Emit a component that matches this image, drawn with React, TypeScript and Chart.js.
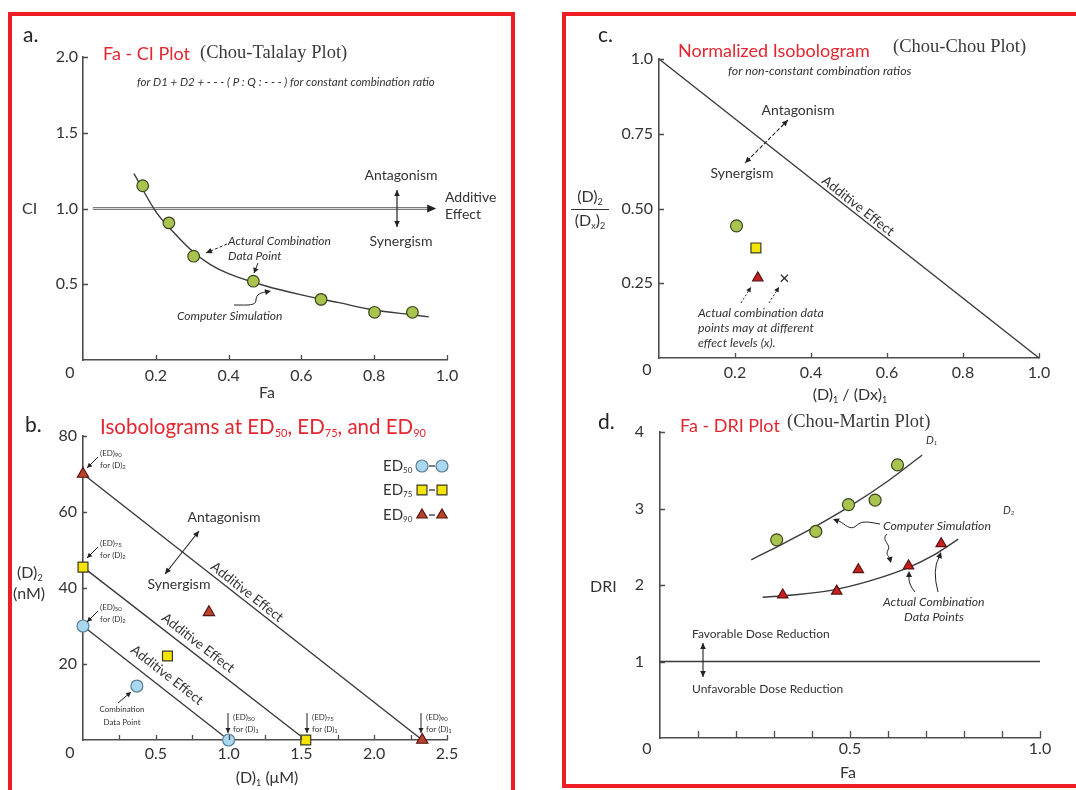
import React, { useEffect, useRef } from 'react';
import { Chart, registerables } from 'chart.js';
Chart.register(...registerables);

const SANS = 'Lato, "Open Sans", "DejaVu Sans", sans-serif';
const SERIF = '"Liberation Serif", "DejaVu Serif", serif';
const INK = '#333333';
const AXIS = '#4d4d4d';
const RED = '#e3262f';
const FRAME = '#ee1c24';
const GREEN = '#a8c44f';
const GREEN_EDGE = '#3b4420';
const BLUE = '#a9d8f1';
const BLUE_EDGE = '#5b7d95';
const YELLOW = '#f4e400';
const YELLOW_EDGE = '#3a3a2a';
const TRI_RED = '#c8201f';
const TRI_EDGE = '#5a1212';
const TRI_BROWN = '#b8442a';

// ---------- a. Fa - CI plot (Chou-Talalay) ----------
const ciFa = [0.164, 0.236, 0.304, 0.468, 0.654, 0.801, 0.905];
const ciValues = [1.15, 0.905, 0.685, 0.52, 0.4, 0.315, 0.315];
const ciSimFa = [0.14, 0.2, 0.25, 0.3, 0.35, 0.4, 0.5, 0.6, 0.7, 0.8, 0.9, 0.95];
const ciSimValues = [1.23, 0.98, 0.84, 0.72, 0.63, 0.57, 0.49, 0.43, 0.38, 0.33, 0.3, 0.285];
const ciAdditiveFa = [0.027, 0.962];
const ciAdditive = 1.0;
const aXTicks = [0.2, 0.4, 0.6, 0.8, 1.0];
const aXLabels = ['0.2', '0.4', '0.6', '0.8', '1.0'];
const aYTicks = [0.5, 1.0, 1.5, 2.0];
const aYLabels = ['0.5', '1.0', '1.5', '2.0'];

// ---------- b. Isobolograms ----------
const isoLevels = ['50', '75', '90'];
const isoD1 = [1.0, 1.53, 2.33];
const isoD2 = [30, 45.5, 70];
const comboD1 = [0.37, 0.58, 0.865];
const comboD2 = [14.2, 22.1, 33.6];
const bXTicks = [0.25, 0.5, 0.75, 1.0, 1.25, 1.5, 1.75, 2.0, 2.25, 2.5];
const bXLabels = ['', '0.5', '', '1.0', '', '1.5', '', '2.0', '', '2.5'];
const bYTicks = [20, 40, 60, 80];
const bYLabels = ['20', '40', '60', '80'];

// ---------- c. Normalized isobologram ----------
const normD1 = [0.204, 0.255, 0.26, 0.33];
const normD2 = [0.442, 0.368, 0.268, 0.267];
const normAdditiveX = [0, 1];
const normAdditiveY = [1, 0];
const cXTicks = [0.2, 0.4, 0.6, 0.8, 1.0];
const cXLabels = ['0.2', '0.4', '0.6', '0.8', '1.0'];
const cYTicks = [0.25, 0.5, 0.75, 1.0];
const cYLabels = ['0.25', '0.50', '0.75', '1.0'];

// ---------- d. Fa - DRI plot ----------
const driD1Fa = [0.307, 0.41, 0.496, 0.566, 0.625];
const driD1 = [2.59, 2.7, 3.05, 3.11, 3.57];
const driD1SimFa = [0.24, 0.3, 0.4, 0.5, 0.6, 0.69];
const driD1Sim = [2.33, 2.48, 2.74, 3.03, 3.36, 3.7];
const driD2Fa = [0.323, 0.465, 0.522, 0.654, 0.74];
const driD2 = [1.87, 1.92, 2.2, 2.25, 2.54];
const driD2SimFa = [0.27, 0.35, 0.45, 0.55, 0.65, 0.72, 0.785];
const driD2Sim = [1.84, 1.87, 1.93, 2.05, 2.22, 2.39, 2.6];
const driRefFa = [0, 1];
const driRef = 1;
const dXTicks = [0.1, 0.2, 0.3, 0.4, 0.5, 0.6, 0.7, 0.8, 0.9, 1.0];
const dXLabels = ['', '', '', '', '0.5', '', '', '', '', '1.0'];
const dYTicks = [1, 2, 3, 4];
const dYLabels = ['1', '2', '3', '4'];

// ---------- drawing helpers ----------
type Seg = string | { s: string; sub?: boolean };

function font(size: number, italic?: boolean, family?: string) {
  return `${italic ? 'italic ' : ''}${size}px ${family || SANS}`;
}

function txt(ctx: CanvasRenderingContext2D, s: string, x: number, y: number, size: number,
  o: { color?: string; align?: CanvasTextAlign; italic?: boolean; family?: string } = {}) {
  ctx.font = font(size, o.italic, o.family);
  ctx.fillStyle = o.color || INK;
  ctx.textAlign = o.align || 'left';
  ctx.textBaseline = 'middle';
  ctx.fillText(s, x, y);
}

function rich(ctx: CanvasRenderingContext2D, segs: Seg[], x: number, y: number, size: number,
  o: { color?: string; align?: 'left' | 'center' | 'right'; italic?: boolean; family?: string } = {}) {
  const subSize = Math.max(6, Math.round(size * 0.55));
  const parts = segs.map((p) => (typeof p === 'string' ? { s: p, sub: false } : { s: p.s, sub: !!p.sub }));
  let total = 0;
  const widths = parts.map((p) => {
    ctx.font = font(p.sub ? subSize : size, o.italic, o.family);
    const w = ctx.measureText(p.s).width;
    total += w;
    return w;
  });
  let cx = o.align === 'center' ? x - total / 2 : o.align === 'right' ? x - total : x;
  ctx.fillStyle = o.color || INK;
  ctx.textAlign = 'left';
  ctx.textBaseline = 'middle';
  parts.forEach((p, i) => {
    ctx.font = font(p.sub ? subSize : size, o.italic, o.family);
    ctx.fillText(p.s, cx, p.sub ? y + size * 0.3 : y);
    cx += widths[i];
  });
}

function head(ctx: CanvasRenderingContext2D, x1: number, y1: number, x2: number, y2: number, len = 6, w = 2.8) {
  const a = Math.atan2(y2 - y1, x2 - x1);
  ctx.beginPath();
  ctx.moveTo(x2, y2);
  ctx.lineTo(x2 - len * Math.cos(a) + w * Math.sin(a), y2 - len * Math.sin(a) - w * Math.cos(a));
  ctx.lineTo(x2 - len * Math.cos(a) - w * Math.sin(a), y2 - len * Math.sin(a) + w * Math.cos(a));
  ctx.closePath();
  ctx.fill();
}

function arrow(ctx: CanvasRenderingContext2D, x1: number, y1: number, x2: number, y2: number,
  o: { both?: boolean; dash?: number[]; width?: number; len?: number; w?: number } = {}) {
  ctx.save();
  ctx.strokeStyle = '#222';
  ctx.fillStyle = '#222';
  ctx.lineWidth = o.width || 1;
  if (o.dash) ctx.setLineDash(o.dash);
  ctx.beginPath();
  ctx.moveTo(x1, y1);
  ctx.lineTo(x2, y2);
  ctx.stroke();
  ctx.setLineDash([]);
  head(ctx, x1, y1, x2, y2, o.len || 6, o.w || 2.8);
  if (o.both) head(ctx, x2, y2, x1, y1, o.len || 6, o.w || 2.8);
  ctx.restore();
}

function marker(ctx: CanvasRenderingContext2D, style: string, x: number, y: number, r: number, fill: string, stroke: string) {
  ctx.save();
  ctx.fillStyle = fill;
  ctx.strokeStyle = stroke;
  ctx.lineWidth = 1.2;
  ctx.beginPath();
  if (style === 'circle') ctx.arc(x, y, r, 0, Math.PI * 2);
  else if (style === 'rect') {
    const s = r * Math.SQRT1_2;
    ctx.rect(x - s, y - s, 2 * s, 2 * s);
  } else {
    ctx.moveTo(x, y - r);
    ctx.lineTo(x + r * 0.866, y + r * 0.5);
    ctx.lineTo(x - r * 0.866, y + r * 0.5);
    ctx.closePath();
  }
  ctx.fill();
  ctx.stroke();
  ctx.restore();
}

function rotated(ctx: CanvasRenderingContext2D, s: string, cx: number, cy: number, ang: number, size: number) {
  ctx.save();
  ctx.translate(cx, cy);
  ctx.rotate(ang);
  txt(ctx, s, 0, 0, size, { align: 'center' });
  ctx.restore();
}

function lookup(values: number[], labels: string[]) {
  return (v: number) => {
    const i = values.findIndex((t) => Math.abs(t - v) < 1e-9);
    return i >= 0 ? labels[i] : '';
  };
}

function scaleOpts(axis: 'x' | 'y', min: number, max: number, marks: number[], labels: string[], pad: number, fixed: number) {
  const fmt = lookup(marks, labels);
  return {
    type: 'linear',
    position: axis === 'x' ? 'bottom' : 'left',
    min,
    max,
    grid: { display: false, drawTicks: false },
    border: { display: true, color: AXIS, width: 1.6 },
    afterBuildTicks: (s: any) => {
      s.ticks = marks.map((v) => ({ value: v }));
    },
    ticks: {
      autoSkip: false,
      maxRotation: 0,
      minRotation: 0,
      padding: pad,
      color: INK,
      font: { family: SANS, size: 16 },
      callback: (v: any) => fmt(Number(v)),
    },
    afterFit: (s: any) => {
      if (axis === 'x') s.height = fixed;
      else s.width = fixed;
    },
  };
}

function inwardTicks(lenX: number, lenY: number) {
  return {
    id: 'inwardTicks',
    afterDraw(chart: any) {
      const { ctx, chartArea } = chart;
      const xs = chart.scales.x;
      const ys = chart.scales.y;
      ctx.save();
      ctx.strokeStyle = AXIS;
      ctx.lineWidth = 1.3;
      ctx.beginPath();
      xs.ticks.forEach((t: any) => {
        const p = Math.round(xs.getPixelForValue(t.value)) + 0.5;
        ctx.moveTo(p, chartArea.bottom);
        ctx.lineTo(p, chartArea.bottom - lenX);
      });
      ys.ticks.forEach((t: any) => {
        const p = Math.round(ys.getPixelForValue(t.value)) + 0.5;
        ctx.moveTo(chartArea.left, p);
        ctx.lineTo(chartArea.left + lenY, p);
      });
      ctx.stroke();
      ctx.restore();
    },
  };
}

function annotations(ox: number, oy: number, draw: (ctx: CanvasRenderingContext2D, chart: any) => void) {
  return {
    id: 'annotations',
    afterDraw(chart: any) {
      const ctx = chart.ctx as CanvasRenderingContext2D;
      ctx.save();
      ctx.translate(-ox, -oy);
      draw(ctx, chart);
      ctx.restore();
    },
  };
}

function baseOptions(padding: any, scales: any) {
  return {
    responsive: false,
    animation: false,
    devicePixelRatio: 1,
    events: [],
    layout: { padding },
    plugins: { legend: { display: false }, tooltip: { enabled: false }, title: { display: false } },
    scales,
  };
}

const pts = (xs: number[], ys: number[]) => xs.map((x, i) => ({ x, y: ys[i] }));

// panel canvas placements (page px)
const PA = { left: 12, top: 16, w: 499, h: 384 };
const PB = { left: 12, top: 400, w: 499, h: 390 };
const PC = { left: 566, top: 16, w: 506, h: 394 };
const PD = { left: 566, top: 400, w: 506, h: 386 };

const SERIF_SIZE = 18.5;

function configA(): any {
  return {
    type: 'scatter',
    data: {
      datasets: [
        {
          label: 'Actual combination data point',
          data: pts(ciFa, ciValues),
          pointStyle: 'circle',
          pointRadius: 5.8,
          backgroundColor: GREEN,
          borderColor: GREEN_EDGE,
          borderWidth: 1.2,
          clip: false,
        },
        {
          label: 'Computer simulation',
          data: pts(ciSimFa, ciSimValues),
          showLine: true,
          pointRadius: 0,
          borderColor: '#3a3a3a',
          borderWidth: 1.4,
          cubicInterpolationMode: 'monotone',
          clip: false,
        },
        {
          label: 'Additive (inner)',
          data: pts(ciAdditiveFa, ciAdditiveFa.map(() => ciAdditive)),
          showLine: true,
          pointRadius: 0,
          borderColor: '#d6d6d6',
          borderWidth: 1,
        },
        {
          label: 'Additive effect',
          data: pts(ciAdditiveFa, ciAdditiveFa.map(() => ciAdditive)),
          showLine: true,
          pointRadius: 0,
          borderColor: '#7d7d7d',
          borderWidth: 3.2,
        },
      ],
    },
    options: baseOptions(
      { left: 31, right: 64, top: 41, bottom: 10 },
      { x: scaleOpts('x', 0, 1, aXTicks, aXLabels, 6, 30), y: scaleOpts('y', 0, 2, aYTicks, aYLabels, 5, 40) }
    ),
    plugins: [
      inwardTicks(5, 5),
      annotations(PA.left, PA.top, (ctx, chart) => {
        const xs = chart.scales.x;
        const ys = chart.scales.y;
        txt(ctx, 'a.', 23, 35, 21, { color: '#222' });
        txt(ctx, 'Fa - CI Plot', 103, 54, 18, { color: RED });
        txt(ctx, '(Chou-Talalay Plot)', 200, 53, SERIF_SIZE, { family: SERIF, color: '#3a3a3a' });
        txt(ctx, 'for D1 + D2 + - - - ( P : Q : - - - ) for constant combination ratio', 137, 82, 11.5, { italic: true });
        txt(ctx, 'CI', 22, 209, 16);
        txt(ctx, 'Fa', 267, 393, 16, { align: 'center' });
        txt(ctx, '0', 70, 373, 16, { align: 'center' });
        const ex = xs.getPixelForValue(ciAdditiveFa[1]) + PA.left;
        const ey = ys.getPixelForValue(ciAdditive) + PA.top;
        ctx.fillStyle = '#222';
        head(ctx, ex - 8, ey, ex + 3, ey, 9, 4);
        txt(ctx, 'Additive', 445, 197, 14);
        txt(ctx, 'Effect', 445, 214, 14);
        txt(ctx, 'Antagonism', 401, 175, 14, { align: 'center' });
        arrow(ctx, 397, 190, 397, 227, { both: true, width: 1.2 });
        txt(ctx, 'Synergism', 401, 241, 14, { align: 'center' });
        txt(ctx, 'Actural Combination', 228, 241, 12, { italic: true });
        txt(ctx, 'Data Point', 228, 256, 12, { italic: true });
        arrow(ctx, 227, 244, 206, 253, { dash: [3, 2] });
        arrow(ctx, 258, 263, 254, 273, { len: 5 });
        ctx.save();
        ctx.strokeStyle = '#222';
        ctx.lineWidth = 1;
        ctx.beginPath();
        ctx.moveTo(234, 305);
        ctx.bezierCurveTo(248, 305, 256, 306, 256, 300);
        ctx.bezierCurveTo(256, 294, 261, 293, 265, 292);
        ctx.stroke();
        ctx.fillStyle = '#222';
        head(ctx, 261, 293, 271, 291, 6, 3);
        ctx.restore();
        txt(ctx, 'Computer Simulation', 177, 316, 12, { italic: true });
      }),
    ],
  };
}

function configB(): any {
  const styles = ['circle', 'rect', 'triangle'];
  const fills = [BLUE, YELLOW, TRI_BROWN];
  const edges = [BLUE_EDGE, YELLOW_EDGE, TRI_EDGE];
  const radii = [6, 7, 6.5];
  const lineSets = isoLevels.map((lvl, i) => ({
    label: `ED${lvl} additive isobole`,
    data: [
      { x: 0, y: isoD2[i] },
      { x: isoD1[i], y: 0 },
    ],
    showLine: true,
    borderColor: '#3a3a3a',
    borderWidth: 1.4,
    pointStyle: styles[i],
    pointRadius: radii[i],
    pointBackgroundColor: fills[i],
    pointBorderColor: edges[i],
    pointBorderWidth: 1.2,
    clip: false,
  }));
  return {
    type: 'scatter',
    data: {
      datasets: [
        {
          label: 'Combination data points',
          data: pts(comboD1, comboD2),
          pointStyle: styles,
          pointRadius: radii,
          backgroundColor: fills,
          borderColor: edges,
          borderWidth: 1.2,
          clip: false,
        },
        ...lineSets,
      ],
    },
    options: baseOptions(
      { left: 31, right: 64, top: 36, bottom: 20 },
      { x: scaleOpts('x', 0, 2.5, bXTicks, bXLabels, 4, 30), y: scaleOpts('y', 0, 80, bYTicks, bYLabels, 6, 40) }
    ),
    plugins: [
      inwardTicks(5, 4),
      annotations(PB.left, PB.top, (ctx, chart) => {
        const xs = chart.scales.x;
        const ys = chart.scales.y;
        txt(ctx, 'b.', 25, 425, 21, { color: '#222' });
        rich(ctx, ['Isobolograms at ED', { s: '50', sub: true }, ', ED', { s: '75', sub: true }, ', and ED', { s: '90', sub: true }], 100, 427, 20.5, { color: RED });
        rich(ctx, ['(D)', { s: '2', sub: true }], 17, 573, 16);
        txt(ctx, '(nM)', 13, 594, 16);
        rich(ctx, ['(D)', { s: '1', sub: true }, ' (\u03bcM)'], 267, 778, 16, { align: 'center' });
        txt(ctx, '0', 70, 753, 16, { align: 'center' });
        const legY = [466, 490, 515];
        isoLevels.forEach((lvl, i) => {
          rich(ctx, ['ED', { s: lvl, sub: true }], 383, legY[i], 15);
          marker(ctx, styles[i], 422, legY[i], i === 1 ? 7 : 6, fills[i], edges[i]);
          ctx.save();
          ctx.strokeStyle = '#333';
          ctx.lineWidth = 1.3;
          ctx.beginPath();
          ctx.moveTo(429, legY[i]);
          ctx.lineTo(435, legY[i]);
          ctx.stroke();
          ctx.restore();
          marker(ctx, styles[i], 442, legY[i], i === 1 ? 7 : 6, fills[i], edges[i]);
        });
        const leftY = [611, 547, 457];
        isoLevels.forEach((lvl, i) => {
          rich(ctx, ['(ED)', { s: lvl, sub: true }], 100, leftY[i] - 4, 8);
          rich(ctx, ['for (D)', { s: '2', sub: true }], 100, leftY[i] + 8, 8);
          arrow(ctx, 98, leftY[i], 87, leftY[i] + 11, { len: 5, w: 2.5 });
        });
        const botX = [228, 307, 421];
        isoLevels.forEach((lvl, i) => {
          rich(ctx, ['(ED)', { s: lvl, sub: true }], botX[i] + 5, 717, 8);
          rich(ctx, ['for (D)', { s: '1', sub: true }], botX[i] + 5, 729, 8);
          arrow(ctx, botX[i], 713, botX[i], 733, { len: 5, w: 2.5 });
        });
        const centers = [
          [167, 675],
          [198, 643],
          [247, 592],
        ];
        isoD1.forEach((d1, i) => {
          const ang = Math.atan2(ys.getPixelForValue(0) - ys.getPixelForValue(isoD2[i]), xs.getPixelForValue(d1) - xs.getPixelForValue(0));
          rotated(ctx, 'Additive Effect', centers[i][0], centers[i][1], ang, 13.5);
        });
        txt(ctx, 'Antagonism', 224, 517, 14, { align: 'center' });
        arrow(ctx, 199, 531, 165, 574, { both: true, width: 1.1 });
        txt(ctx, 'Synergism', 179, 584, 14, { align: 'center' });
        txt(ctx, 'Combination', 122, 709, 8, { align: 'center' });
        txt(ctx, 'Data Point', 122, 722, 8, { align: 'center' });
        arrow(ctx, 118, 703, 131, 692, { len: 5, w: 2.5 });
      }),
    ],
  };
}

function configC(): any {
  return {
    type: 'scatter',
    data: {
      datasets: [
        {
          label: 'Actual combination data points',
          data: pts(normD1, normD2),
          pointStyle: ['circle', 'rect', 'triangle', 'crossRot'],
          pointRadius: [6, 7, 6, 5],
          backgroundColor: [GREEN, YELLOW, TRI_RED, '#222'],
          borderColor: [GREEN_EDGE, YELLOW_EDGE, TRI_EDGE, '#222'],
          borderWidth: 1.2,
          clip: false,
        },
        {
          label: 'Additive effect',
          data: pts(normAdditiveX, normAdditiveY),
          showLine: true,
          pointRadius: 0,
          borderColor: '#3a3a3a',
          borderWidth: 1.4,
          clip: false,
        },
      ],
    },
    options: baseOptions(
      { left: 48, right: 33, top: 43, bottom: 22 },
      { x: scaleOpts('x', 0, 1, cXTicks, cXLabels, 5, 30), y: scaleOpts('y', 0, 1, cYTicks, cYLabels, 6, 45) }
    ),
    plugins: [
      inwardTicks(5, 5),
      annotations(PC.left, PC.top, (ctx, chart) => {
        const xs = chart.scales.x;
        const ys = chart.scales.y;
        txt(ctx, 'c.', 598, 35, 21, { color: '#222' });
        txt(ctx, 'Normalized Isobologram', 678, 51, 18, { color: RED });
        txt(ctx, '(Chou-Chou Plot)', 893, 47, SERIF_SIZE, { family: SERIF, color: '#3a3a3a' });
        txt(ctx, 'for non-constant combination ratios', 728, 71, 12.3, { italic: true });
        rich(ctx, ['(D)', { s: '2', sub: true }], 590, 197, 16, { align: 'center' });
        ctx.save();
        ctx.strokeStyle = '#333';
        ctx.lineWidth = 1;
        ctx.beginPath();
        ctx.moveTo(571, 209.5);
        ctx.lineTo(609, 209.5);
        ctx.stroke();
        ctx.restore();
        rich(ctx, ['(D', { s: 'x', sub: true }, ')', { s: '2', sub: true }], 590, 221, 16, { align: 'center' });
        rich(ctx, ['(D)', { s: '1', sub: true }, ' / (Dx)', { s: '1', sub: true }], 850, 395, 16, { align: 'center' });
        txt(ctx, '0', 647, 370, 16, { align: 'center' });
        txt(ctx, 'Antagonism', 798, 110, 14, { align: 'center' });
        arrow(ctx, 788, 120, 745, 163, { both: true, width: 1.1, dash: [4, 2] });
        txt(ctx, 'Synergism', 742, 173, 14, { align: 'center' });
        const ang = Math.atan2(ys.getPixelForValue(0) - ys.getPixelForValue(1), xs.getPixelForValue(1) - xs.getPixelForValue(0));
        rotated(ctx, 'Additive Effect', 858, 206, ang, 13.5);
        arrow(ctx, 741, 303, 751, 287, { dash: [2, 2], len: 5, w: 2.5 });
        arrow(ctx, 769, 303, 779, 287, { dash: [2, 2], len: 5, w: 2.5 });
        txt(ctx, 'Actual combination data', 698, 313, 12.3, { italic: true });
        txt(ctx, 'points may at different', 698, 328, 12.3, { italic: true });
        txt(ctx, 'effect levels (x).', 698, 343, 12.3, { italic: true });
      }),
    ],
  };
}

function configD(): any {
  return {
    type: 'scatter',
    data: {
      datasets: [
        {
          label: 'D1 data points',
          data: pts(driD1Fa, driD1),
          pointStyle: 'circle',
          pointRadius: 6,
          backgroundColor: GREEN,
          borderColor: GREEN_EDGE,
          borderWidth: 1.2,
        },
        {
          label: 'D2 data points',
          data: pts(driD2Fa, driD2),
          pointStyle: 'triangle',
          pointRadius: 6,
          backgroundColor: TRI_RED,
          borderColor: TRI_EDGE,
          borderWidth: 1.2,
        },
        {
          label: 'D1 simulation',
          data: pts(driD1SimFa, driD1Sim),
          showLine: true,
          pointRadius: 0,
          borderColor: '#3a3a3a',
          borderWidth: 1.4,
          cubicInterpolationMode: 'monotone',
        },
        {
          label: 'D2 simulation',
          data: pts(driD2SimFa, driD2Sim),
          showLine: true,
          pointRadius: 0,
          borderColor: '#3a3a3a',
          borderWidth: 1.4,
          cubicInterpolationMode: 'monotone',
        },
        {
          label: 'DRI = 1',
          data: pts(driRefFa, driRefFa.map(() => driRef)),
          showLine: true,
          pointRadius: 0,
          borderColor: '#3a3a3a',
          borderWidth: 1.4,
        },
      ],
    },
    options: baseOptions(
      { left: 54, right: 32, top: 32, bottom: 18 },
      { x: scaleOpts('x', 0, 1, dXTicks, dXLabels, 1, 30), y: scaleOpts('y', 0, 4, dYTicks, dYLabels, 16, 40) }
    ),
    plugins: [
      inwardTicks(7, 5),
      annotations(PD.left, PD.top, (ctx) => {
        txt(ctx, 'd.', 598, 422, 21, { color: '#222' });
        txt(ctx, 'Fa - DRI Plot', 680, 426, 18, { color: RED });
        txt(ctx, '(Chou-Martin Plot)', 787, 422, SERIF_SIZE, { family: SERIF, color: '#3a3a3a' });
        txt(ctx, 'DRI', 590, 587, 16);
        txt(ctx, 'Fa', 848, 773, 16, { align: 'center' });
        txt(ctx, '0', 647, 749, 16, { align: 'center' });
        rich(ctx, ['D', { s: '1', sub: true }], 926, 440, 11, { italic: true });
        rich(ctx, ['D', { s: '2', sub: true }], 1003, 510, 11, { italic: true });
        txt(ctx, 'Computer Simulation', 883, 526, 12.3, { italic: true });
        ctx.save();
        ctx.strokeStyle = '#222';
        ctx.fillStyle = '#222';
        ctx.lineWidth = 1;
        ctx.beginPath();
        ctx.moveTo(880, 524);
        ctx.bezierCurveTo(868, 522, 862, 520, 856, 526);
        ctx.bezierCurveTo(850, 531, 845, 524, 839, 521);
        ctx.stroke();
        head(ctx, 843, 523, 833, 519, 6, 3);
        ctx.beginPath();
        ctx.moveTo(887, 534);
        ctx.bezierCurveTo(880, 540, 892, 545, 888, 550);
        ctx.bezierCurveTo(885, 555, 890, 557, 890, 559);
        ctx.stroke();
        head(ctx, 889, 555, 891, 563, 6, 3);
        ctx.beginPath();
        ctx.moveTo(915, 592);
        ctx.quadraticCurveTo(908, 584, 909, 576);
        ctx.stroke();
        head(ctx, 909, 580, 909, 571, 6, 3);
        ctx.beginPath();
        ctx.moveTo(938, 592);
        ctx.quadraticCurveTo(932, 570, 939, 557);
        ctx.stroke();
        head(ctx, 938, 561, 941, 552, 6, 3);
        ctx.restore();
        txt(ctx, 'Actual Combination', 883, 602, 12.3, { italic: true });
        txt(ctx, 'Data Points', 934, 617, 12.3, { italic: true, align: 'center' });
        txt(ctx, 'Favorable Dose Reduction', 692, 634, 12);
        arrow(ctx, 703, 643, 703, 677, { both: true, width: 1.1 });
        txt(ctx, 'Unfavorable Dose Reduction', 692, 689, 12);
      }),
    ],
  };
}

export default function App() {
  const refA = useRef<HTMLCanvasElement>(null);
  const refB = useRef<HTMLCanvasElement>(null);
  const refC = useRef<HTMLCanvasElement>(null);
  const refD = useRef<HTMLCanvasElement>(null);

  useEffect(() => {
    const charts = [
      new Chart(refA.current as HTMLCanvasElement, configA()),
      new Chart(refB.current as HTMLCanvasElement, configB()),
      new Chart(refC.current as HTMLCanvasElement, configC()),
      new Chart(refD.current as HTMLCanvasElement, configD()),
    ];
    return () => charts.forEach((c) => c.destroy());
  }, []);

  const cv = (p: { left: number; top: number; w: number; h: number }) => ({
    position: 'absolute' as const,
    left: p.left,
    top: p.top,
    width: p.w,
    height: p.h,
  });

  return (
    <div style={{ position: 'fixed', left: 0, top: 0, width: 1076, height: 790, background: '#fff', overflow: 'hidden' }}>
      <div style={{ position: 'absolute', left: 8, top: 12, width: 507, height: 820, border: `4px solid ${FRAME}`, boxSizing: 'border-box' }} />
      <div style={{ position: 'absolute', left: 562, top: 12, width: 540, height: 776, border: `4px solid ${FRAME}`, boxSizing: 'border-box' }} />
      <canvas ref={refA} width={PA.w} height={PA.h} style={cv(PA)} />
      <canvas ref={refB} width={PB.w} height={PB.h} style={cv(PB)} />
      <canvas ref={refC} width={PC.w} height={PC.h} style={cv(PC)} />
      <canvas ref={refD} width={PD.w} height={PD.h} style={cv(PD)} />
    </div>
  );
}
